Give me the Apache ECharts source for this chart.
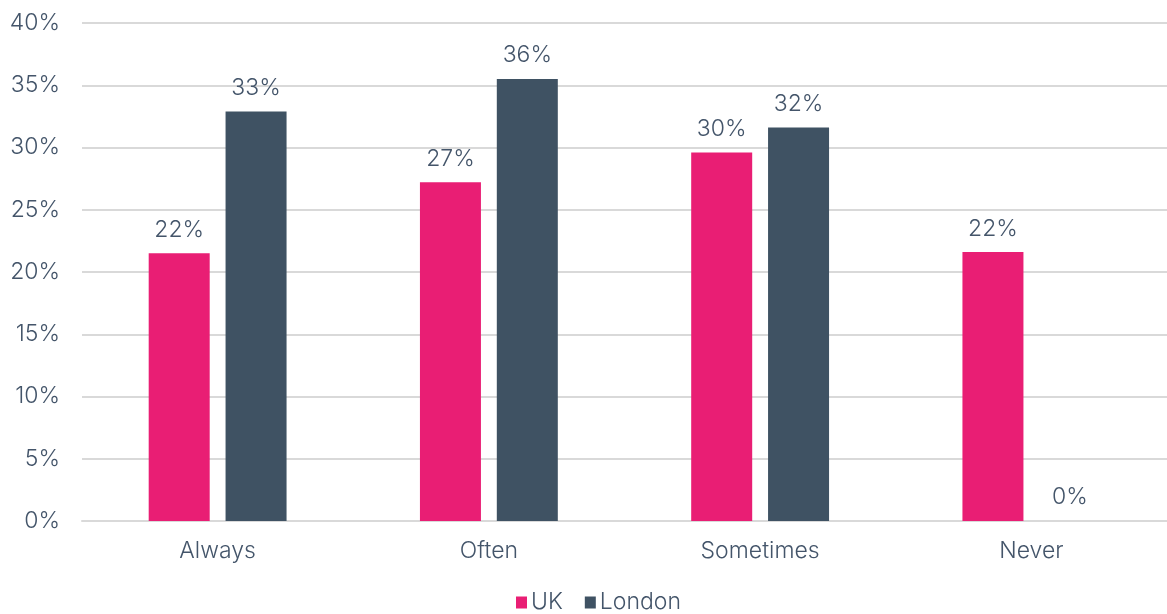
<!DOCTYPE html>
<html>
<head>
<meta charset="utf-8">
<style>
  html, body { margin: 0; padding: 0; background: #fff; }
  #chart { width: 1167px; height: 614px; }
</style>
<script src="https://cdn.jsdelivr.net/npm/echarts@6/dist/echarts.min.js"></script>
</head>
<body>
<div id="chart"></div>
<script>
// Frequency categories and the share of respondents for each group (%)
const categories = ['Always', 'Often', 'Sometimes', 'Never'];
const ukValues = [21.5, 27.2, 29.6, 21.6];
const londonValues = [32.9, 35.5, 31.6, 0];
const seriesNames = ['UK', 'London'];
const seriesColors = ['#E91E74', '#3F5263'];

const textColor = '#44556a';
const fontFamily = 'Inter, "Noto Sans", sans-serif';
const fontWeight = 300;
const fontSize = 23;

const chart = echarts.init(document.getElementById('chart'), null, { renderer: 'canvas' });

const labelStyle = {
  show: true,
  position: 'top',
  distance: 12,
  color: textColor,
  fontSize: fontSize,
  fontWeight: fontWeight,
  fontFamily: fontFamily,
  formatter: p => Math.round(p.value) + '%'
};

chart.setOption({
  animation: false,
  color: seriesColors,
  grid: { left: 82, right: 0, top: 23, bottom: 93, containLabel: false },
  legend: {
    top: 586,
    left: 511,
    itemWidth: 11,
    itemHeight: 12,
    itemGap: 22,
    icon: 'rect',
    textStyle: { color: textColor, fontSize: fontSize, fontWeight: fontWeight, fontFamily: fontFamily, padding: [0, 0, 0, -1] },
    data: seriesNames
  },
  xAxis: {
    type: 'category',
    data: categories,
    axisLine: { show: true, lineStyle: { color: '#d9d9d9', width: 2 } },
    axisTick: { show: false },
    axisLabel: { color: textColor, fontSize: fontSize, fontWeight: fontWeight, fontFamily: fontFamily, margin: 19 }
  },
  yAxis: {
    type: 'value',
    min: 0,
    max: 40,
    interval: 5,
    axisLine: { show: false },
    axisTick: { show: false },
    splitLine: { lineStyle: { color: '#d9d9d9', width: 2 } },
    axisLabel: { color: textColor, fontSize: fontSize, fontWeight: fontWeight, fontFamily: fontFamily, margin: 22, formatter: '{value}%' }
  },
  series: [
    {
      name: seriesNames[0],
      type: 'bar',
      data: ukValues,
      barWidth: 61,
      barGap: '26%',
      label: labelStyle
    },
    {
      name: seriesNames[1],
      type: 'bar',
      data: londonValues,
      barWidth: 61,
      barGap: '26%',
      label: labelStyle
    }
  ]
});
</script>
</body>
</html>
